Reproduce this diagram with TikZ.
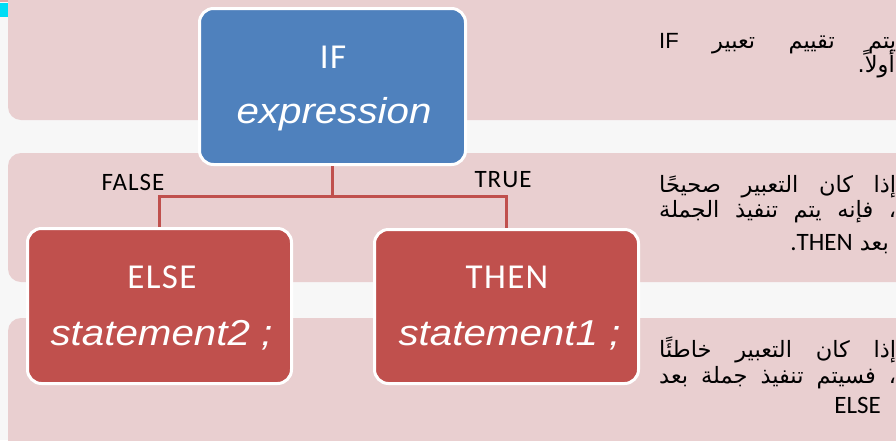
\documentclass[tikz,border=0pt]{standalone}
\usepackage{fontspec}
\setmainfont{Carlito}
\newfontfamily\arfont[Script=Arabic]{DejaVu Sans}
\newfontfamily\calsp[LetterSpace=4]{Carlito}
\newfontfamily\calfont{Carlito}
\newfontfamily\stmtfont[FakeStretch=1.12]{Liberation Sans}
\newfontfamily\arialfont{Liberation Sans}
\TeXXeTstate=1
\definecolor{bgc}{HTML}{F7F7F7}
\definecolor{bandc}{HTML}{E9CFD0}
\definecolor{bluec}{HTML}{4F81BD}
\definecolor{redc}{HTML}{C0504D}
\definecolor{cyanc}{HTML}{00DDF5}
\begin{document}
\begin{tikzpicture}[x=1pt,y=-1pt,
  band/.style={fill=bandc,rounded corners=13pt},
  box/.style={draw=white,line width=3pt,rounded corners=14pt,inner sep=0pt},
  boxhead/.style={text=white,anchor=base,inner sep=0pt,font=\calsp\fontsize{35}{40}\selectfont},
  boxbody/.style={text=white,anchor=base,inner sep=0pt,font=\stmtfont\itshape\fontsize{36}{40}\selectfont},
  branch/.style={anchor=base,inner sep=0pt,font=\calsp\fontsize{25}{28}\selectfont},
  conn/.style={draw=redc,line width=2.5pt},
  artext/.style={inner sep=0pt,font=\arfont\fontsize{22.5}{25}\selectfont}]
\useasboundingbox (0,0) rectangle (896,440);
\clip (0,0) rectangle (896,440);
\fill[bgc] (0,0) rectangle (896,440);
% bands
\fill[band] (8,-30) rectangle (930,120);
\fill[band] (8,153) rectangle (930,282);
\fill[band] (8,318) rectangle (930,470);
% small glitch at top left
\fill[cyanc] (0,3) rectangle (8,17);
\fill[redc!50] (0,0) rectangle (8,2);
% boxes
\node[box,fill=bluec,minimum width=266pt,minimum height=156pt] (ifbox) at (332.5,86.5) {};
\node[box,fill=redc,minimum width=264pt,minimum height=155pt] (elsebox) at (159.5,306) {};
\node[box,fill=redc,minimum width=264pt,minimum height=154pt] (thenbox) at (506.5,306.5) {};
% connectors
\coordinate (junction) at (332.5,196.5);
\draw[conn] (ifbox.south) -- (junction);
\draw[conn] (elsebox.north) |- (junction) -| (thenbox.north);
% box texts
\node[boxhead] (iftxt) at (333,68.5) {IF};
\node[boxbody] (exprtxt) at (334,123) {expression};
\node[boxhead] (thentxt) at (507,288) {THEN};
\node[boxbody] (stmt1) at (509.5,345) {statement1 ;};
\node[boxhead] (elsetxt) at (162,288) {ELSE};
\node[boxbody] (stmt2) at (161.5,345) {statement2 ;};
% branch labels
\node[branch] (falselbl) at (133,190) {FALSE};
\node[branch] (truelbl) at (503,187) {TRUE};
% Arabic explanations
\node[artext,anchor=base west] (a1) at (659,48) {\hbox to 237pt{\beginR يتم تقييم تعبير \beginL{\arialfont\fontsize{22}{24}\selectfont IF}\endL\endR}};
\node[artext,anchor=base east] (a2) at (895,72) {\beginR أولاً.\endR};
\node[artext,anchor=base west] (b1) at (659,192) {\hbox to 237pt{\beginR إذا كان التعبير صحيحًا\endR}};
\node[artext,anchor=base west] (b2) at (659,217) {\hbox to 237pt{\beginR ، فإنه يتم تنفيذ الجملة\endR}};
\node[artext,anchor=base east] (b3) at (889,250) {\beginR بعد \beginL{\calfont\fontsize{25}{28}\selectfont THEN}\endL{\calfont\fontsize{25}{28}\selectfont .}\endR};
\node[artext,anchor=base west] (c1) at (659,357) {\hbox to 237pt{\beginR إذا كان التعبير خاطئًا\endR}};
\node[artext,anchor=base west] (c2) at (659,383) {\hbox to 237pt{\beginR ، فسيتم تنفيذ جملة بعد\endR}};
\node[artext,anchor=base east] (c3) at (881,413) {{\calfont\fontsize{25}{28}\selectfont ELSE}};
\end{tikzpicture}
\end{document}
